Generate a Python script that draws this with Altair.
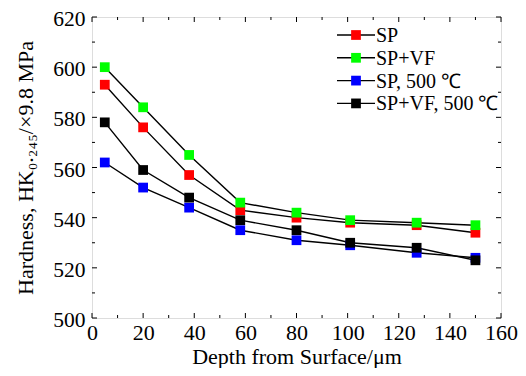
import altair as alt
import pandas as pd

depth = [5, 20, 38, 58, 80, 101, 127, 150]
sp = [593, 576, 557, 543, 540, 538, 537, 534]
sp_vf = [600, 584, 565, 546, 542, 539, 538, 537]
sp_500 = [562, 552, 544, 535, 531, 529, 526, 524]
sp_vf_500 = [578, 559, 548, 539, 535, 530, 528, 523]

series_names = ["SP", "SP+VF", "SP, 500 ℃", "SP+VF, 500  ℃"]
series_colors = ["#ff0000", "#00ff00", "#0000ff", "#000000"]
series_values = [sp, sp_vf, sp_500, sp_vf_500]

x_major = [0, 20, 40, 60, 80, 100, 120, 140, 160]
x_minor = [10, 30, 50, 70, 90, 110, 130, 150]
y_major = [500, 520, 540, 560, 580, 600, 620]
y_minor = [510, 530, 550, 570, 590, 610]

W, H = 409, 301
FONT = "Liberation Serif"

rows = []
for name, vals in zip(series_names, series_values):
    for d, v in zip(depth, vals):
        rows.append({"depth": d, "hardness": v, "series": name})
df = pd.DataFrame(rows)

xs = alt.Scale(domain=[0, 160], nice=False)
ys = alt.Scale(domain=[500, 620], nice=False)
cs = alt.Scale(domain=series_names, range=series_colors)

xax = alt.Axis(values=x_major, format="d", ticks=False, tickSize=0, grid=False,
               domain=False, labelFont=FONT, labelFontSize=22, labelColor="black",
               labelPadding=4, title="Depth from Surface/μm", titleFont=FONT,
               titleFontSize=22, titleFontWeight="normal", titleColor="black",
               titlePadding=3, labelFlush=False)
yax = alt.Axis(values=y_major, format="d", ticks=False, tickSize=0, grid=False,
               domain=False, labelFont=FONT, labelFontSize=21.5, labelColor="black",
               labelPadding=7, labelOffset=2.5, title="Hardness, HK₀.₂₄₅/×9.8 MPa",
               titleFont=FONT, titleFontSize=22, titleFontWeight="normal",
               titleColor="black", titlePadding=15, labelFlush=False)

base = alt.Chart(df)
lines = base.mark_line(color="black", strokeWidth=1.4).encode(
    x=alt.X("depth:Q", scale=xs, axis=xax),
    y=alt.Y("hardness:Q", scale=ys, axis=yax),
    detail="series:N",
)
points = base.mark_point(shape="square", filled=True, size=95, opacity=1).encode(
    x=alt.X("depth:Q", scale=xs),
    y=alt.Y("hardness:Q", scale=ys),
    color=alt.Color("series:N", scale=cs, legend=None),
)

layers = [lines, points]

# inward ticks
def xticks(vals, length):
    d = pd.DataFrame({"v": vals})
    bot = alt.Chart(d).mark_rule(color="black", strokeWidth=1).encode(
        x=alt.X("v:Q", scale=xs), y=alt.value(H), y2=alt.value(H - length))
    top = alt.Chart(d).mark_rule(color="black", strokeWidth=1).encode(
        x=alt.X("v:Q", scale=xs), y=alt.value(0), y2=alt.value(length))
    return [bot, top]

def yticks(vals, length):
    d = pd.DataFrame({"v": vals})
    left = alt.Chart(d).mark_rule(color="black", strokeWidth=1).encode(
        y=alt.Y("v:Q", scale=ys), x=alt.value(0), x2=alt.value(length))
    right = alt.Chart(d).mark_rule(color="black", strokeWidth=1).encode(
        y=alt.Y("v:Q", scale=ys), x=alt.value(W), x2=alt.value(W - length))
    return [left, right]

layers += xticks(x_major, 5) + xticks(x_minor, 3) + yticks(y_major, 5) + yticks(y_minor, 3)

# manual legend
leg_y0, leg_dy = 18, 22.8
for i, (name, col) in enumerate(zip(series_names, series_colors)):
    yy = leg_y0 + i * leg_dy
    d = pd.DataFrame({"label": [name]})
    c = alt.Chart(d)
    layers.append(c.mark_rule(color="black", strokeWidth=1.4).encode(
        x=alt.value(245), x2=alt.value(283), y=alt.value(yy)))
    layers.append(c.mark_point(shape="square", filled=True, size=95, opacity=1,
                               color=col).encode(x=alt.value(264), y=alt.value(yy)))
    layers.append(c.mark_text(align="left", baseline="middle", font=FONT, fontSize=20,
                              color="black", dx=0).encode(
        x=alt.value(284), y=alt.value(yy + 1), text="label:N"))

chart = alt.layer(*layers).properties(
    width=W, height=H,
    autosize=alt.AutoSizeParams(type="none"),
    padding={"left": 84, "top": 9, "right": 17, "bottom": 50},
).configure_view(stroke="black", strokeWidth=1.6).configure(background="white")

chart.save("out.html", embed_options={"renderer": "svg", "actions": False})
